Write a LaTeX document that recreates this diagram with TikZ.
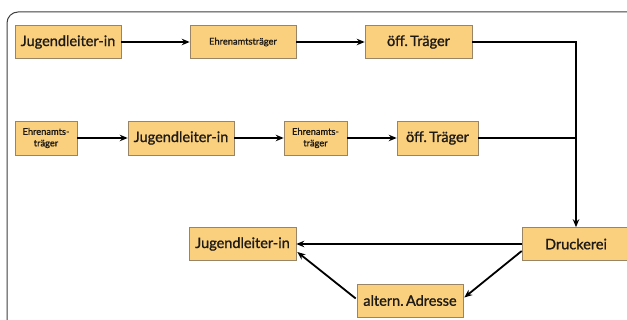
\documentclass[tikz,border=0pt]{standalone}
\usepackage{fontspec}
\setmainfont{Lato}[RawFeature={embolden=1.2}]
\usetikzlibrary{arrows.meta,calc}
\definecolor{boxfill}{HTML}{FAD07E}
\definecolor{boxline}{HTML}{9A8466}
\definecolor{txt}{HTML}{1E1A16}
\begin{document}
\begin{tikzpicture}[x=1pt,y=-1pt,
  box/.style={draw=boxline,line width=0.6pt,fill=boxfill,inner sep=0pt,align=center,text=txt},
  big/.style={box,font=\fontsize{14.5}{16}\selectfont},
  small/.style={box,font=\fontsize{9.3}{11.5}\selectfont},
  arr/.style={line width=1.8pt,-{Stealth[length=8pt,width=6.5pt]}},
  ln/.style={line width=1.8pt}]
\useasboundingbox (0,0) rectangle (627,320);
\clip (0,0) rectangle (627,320);
\fill[white] (0,0) rectangle (627,320);
\draw[line width=1pt,draw=black!75,rounded corners=11pt] (7,12) rectangle (642,334);
% row 1
\node[big,minimum width=106pt,minimum height=33pt] (J1) at (68,42) {Jugendleiter-in};
\node[small,minimum width=106pt,minimum height=33pt] (E1) at (243,42) {Ehrenamtsträger};
\node[big,minimum width=107pt,minimum height=33pt] (O1) at (418.5,42) {öff.\,Träger};
% row 2
\node[small,minimum width=62pt,minimum height=34pt] (E2) at (46,138) {Ehrenamts-\\träger};
\node[big,minimum width=106pt,minimum height=34pt] (J2) at (181,138) {Jugendleiter-in};
\node[small,minimum width=63pt,minimum height=34pt] (E3) at (315.5,138) {Ehrenamts-\\träger};
\node[big,minimum width=81pt,minimum height=34pt] (O2) at (437.5,138) {öff.\,Träger};
% row 3
\node[big,minimum width=108pt,minimum height=33pt] (D) at (576,244) {Druckerei};
\node[big,minimum width=107pt,minimum height=33pt] (J3) at (242.5,244) {Jugendleiter-in};
\node[big,minimum width=106pt,minimum height=33pt] (A) at (410,300.5) {altern.\,Adresse};
% connectors
\draw[arr] (J1) -- (E1);
\draw[arr] (E1) -- (O1);
\draw[arr] (O1.east) -| (D.north);
\draw[arr] (E2) -- (J2);
\draw[arr] (J2) -- (E3);
\draw[arr] (E3) -- (O2);
\draw[ln] (O2.east) -- (O2.east -| D.north);
\draw[arr] (D.west) -- (J3.east);
\draw[arr] ($(D.west)+(0,7)$) -- ($(A.east)+(1,-3)$);
\draw[arr] ($(A.west)+(-1,-2)$) -- ($(J3.east)+(1,8)$);
\end{tikzpicture}
\end{document}
